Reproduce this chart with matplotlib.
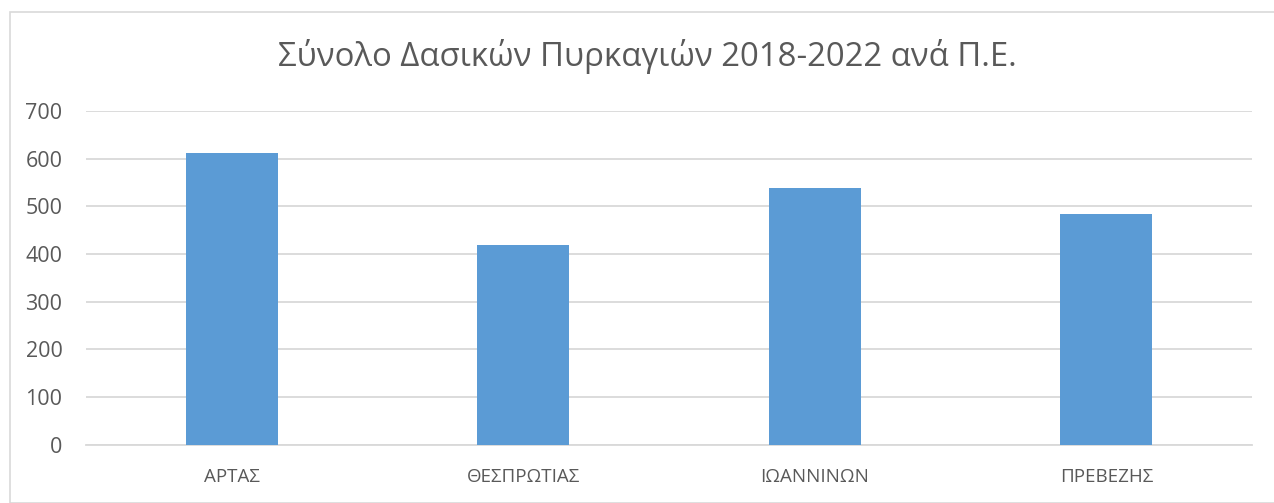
import matplotlib
matplotlib.use("Agg")
import matplotlib.pyplot as plt
from matplotlib.patches import Rectangle

categories = ["ΑΡΤΑΣ", "ΘΕΣΠΡΩΤΙΑΣ", "ΙΩΑΝΝΙΝΩΝ", "ΠΡΕΒΕΖΗΣ"]
values = [611, 418, 538, 483]
yticks = [0, 100, 200, 300, 400, 500, 600, 700]
title = "Σύνολο Δασικών Πυρκαγιών 2018-2022 ανά Π.Ε."

plt.rcParams['font.family'] = ['Open Sans', 'DejaVu Sans']
W, H = 1274, 503
fig = plt.figure(figsize=(W/100, H/100), dpi=100)
fig.patch.set_facecolor("white")

# outer chart border
fig.patches.append(Rectangle((10/W, 0), 1.0, 1 - 12/H, transform=fig.transFigure,
                             fill=False, edgecolor="#d9d9d9", linewidth=1.2))

ax = fig.add_axes([86/W, 1 - 444.7/H, (1252-86)/W, (444.7-111)/H])
x = range(len(categories))
ax.bar(x, values, width=0.315, color="#5b9bd5", zorder=3)
ax.set_xlim(-0.5, len(categories) - 0.5)
ax.set_ylim(0, 700)
ax.set_yticks(yticks)
ax.set_yticklabels([str(v) for v in yticks])
ax.set_xticks(list(x))
ax.set_xticklabels(categories)
ax.grid(axis="y", color="#d9d9d9", linewidth=1.3, zorder=0)
for s in ["top", "right", "left"]:
    ax.spines[s].set_visible(False)
ax.spines["bottom"].set_color("#d9d9d9")
ax.spines["bottom"].set_linewidth(1.3)
ax.tick_params(axis="both", length=0, colors="#595959")
ax.tick_params(axis="y", pad=17, labelsize=15.5)
ax.tick_params(axis="x", pad=17, labelsize=13.5)

fig.text(0.508, 1 - 57/H, title, ha="center", va="center", fontsize=23.7, color="#595959")

fig.savefig("out.png", dpi=100)
